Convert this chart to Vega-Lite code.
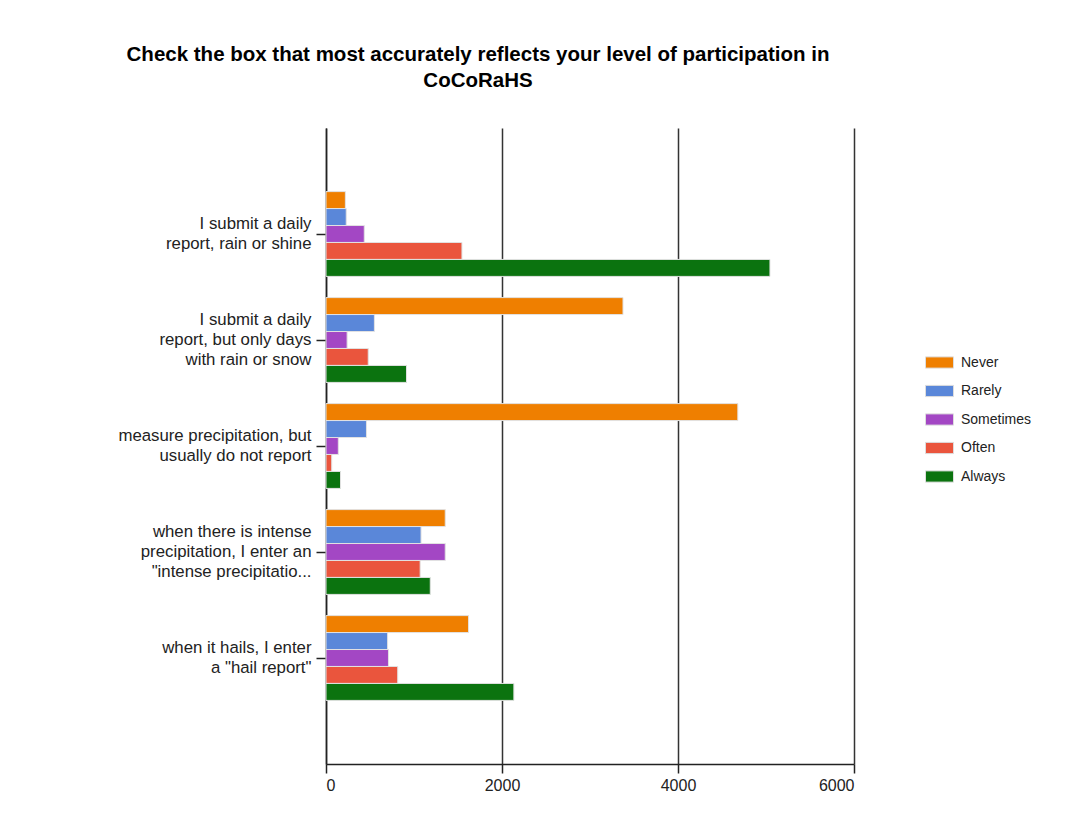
{
  "$schema": "https://vega.github.io/schema/vega-lite/v6.json",
  "width": 528,
  "height": 636,
  "autosize": {"type": "none"},
  "padding": {"left": 326, "top": 128, "right": 218, "bottom": 64},
  "background": "white",
  "title": {
    "text": ["Check the box that most accurately reflects your level of participation in", "CoCoRaHS"],
    "font": "Liberation Sans",
    "fontSize": 20.5,
    "fontWeight": "bold",
    "color": "#000000",
    "anchor": "middle",
    "frame": "group",
    "dx": -112,
    "offset": 37,
    "lineHeight": 26
  },
  "data": {
    "values": [
      {"question": "I submit a daily|report, rain or shine", "response": "Never", "count": 220},
      {"question": "I submit a daily|report, rain or shine", "response": "Rarely", "count": 230},
      {"question": "I submit a daily|report, rain or shine", "response": "Sometimes", "count": 435},
      {"question": "I submit a daily|report, rain or shine", "response": "Often", "count": 1545},
      {"question": "I submit a daily|report, rain or shine", "response": "Always", "count": 5045},
      {"question": "I submit a daily|report, but only days|with rain or snow", "response": "Never", "count": 3375},
      {"question": "I submit a daily|report, but only days|with rain or snow", "response": "Rarely", "count": 550},
      {"question": "I submit a daily|report, but only days|with rain or snow", "response": "Sometimes", "count": 240},
      {"question": "I submit a daily|report, but only days|with rain or snow", "response": "Often", "count": 480},
      {"question": "I submit a daily|report, but only days|with rain or snow", "response": "Always", "count": 915},
      {"question": "measure precipitation, but|usually do not report", "response": "Never", "count": 4680},
      {"question": "measure precipitation, but|usually do not report", "response": "Rarely", "count": 460},
      {"question": "measure precipitation, but|usually do not report", "response": "Sometimes", "count": 140},
      {"question": "measure precipitation, but|usually do not report", "response": "Often", "count": 65},
      {"question": "measure precipitation, but|usually do not report", "response": "Always", "count": 165},
      {"question": "when there is intense|precipitation, I enter an|\"intense precipitatio...", "response": "Never", "count": 1355},
      {"question": "when there is intense|precipitation, I enter an|\"intense precipitatio...", "response": "Rarely", "count": 1080},
      {"question": "when there is intense|precipitation, I enter an|\"intense precipitatio...", "response": "Sometimes", "count": 1355},
      {"question": "when there is intense|precipitation, I enter an|\"intense precipitatio...", "response": "Often", "count": 1070},
      {"question": "when there is intense|precipitation, I enter an|\"intense precipitatio...", "response": "Always", "count": 1185},
      {"question": "when it hails, I enter|a \"hail report\"", "response": "Never", "count": 1620},
      {"question": "when it hails, I enter|a \"hail report\"", "response": "Rarely", "count": 700},
      {"question": "when it hails, I enter|a \"hail report\"", "response": "Sometimes", "count": 710},
      {"question": "when it hails, I enter|a \"hail report\"", "response": "Often", "count": 815},
      {"question": "when it hails, I enter|a \"hail report\"", "response": "Always", "count": 2135}
    ]
  },
  "mark": {"type": "bar", "stroke": "#e2e2e2", "strokeWidth": 1},
  "encoding": {
    "y": {
      "field": "question",
      "type": "nominal",
      "sort": null,
      "scale": {"paddingInner": 0.2, "paddingOuter": 0.6},
      "axis": {
        "title": null,
        "labelExpr": "split(datum.label, '|')",
        "labelFont": "Liberation Sans",
        "labelFontSize": 16.8,
        "labelColor": "#222222",
        "labelLineHeight": 20,
        "labelPadding": 5,
        "labelLimit": 300,
        "labelOffset": {
          "condition": {"test": "length(split(datum.value, '|')) == 3", "value": -20},
          "value": -10
        },
        "tickSize": 10,
        "tickColor": "#222222",
        "tickWidth": 1.5,
        "domainColor": "#222222",
        "domainWidth": 1.5,
        "grid": false
      }
    },
    "yOffset": {
      "field": "response",
      "type": "nominal",
      "sort": ["Never", "Rarely", "Sometimes", "Often", "Always"],
      "scale": {"paddingInner": 0, "paddingOuter": 0}
    },
    "x": {
      "field": "count",
      "type": "quantitative",
      "scale": {"domain": [0, 6000], "nice": false},
      "axis": {
        "title": null,
        "values": [0, 2000, 4000, 6000],
        "format": "d",
        "labelFont": "Liberation Sans",
        "labelFontSize": 16,
        "labelColor": "#222222",
        "labelPadding": 4,
        "tickSize": 9,
        "tickColor": "#222222",
        "tickWidth": 1.5,
        "domainColor": "#222222",
        "domainWidth": 1.5,
        "grid": true,
        "gridColor": "#333333",
        "gridWidth": 1.5,
        "gridOpacity": 1
      }
    },
    "color": {
      "field": "response",
      "type": "nominal",
      "sort": ["Never", "Rarely", "Sometimes", "Often", "Always"],
      "scale": {
        "domain": ["Never", "Rarely", "Sometimes", "Often", "Always"],
        "range": ["#ef7f00", "#5a87d9", "#a347c4", "#ea553d", "#0b730f"]
      },
      "legend": {
        "title": null,
        "orient": "none",
        "legendX": 599,
        "legendY": 220,
        "symbolType": "M-1,-0.4H1V0.4H-1Z",
        "symbolSize": 784,
        "symbolStrokeColor": "#dddddd",
        "symbolStrokeWidth": 1,
        "symbolOpacity": 1,
        "labelFont": "Liberation Sans",
        "labelFontSize": 14,
        "labelColor": "#222222",
        "labelOffset": 7,
        "rowPadding": 5.5
      }
    }
  },
  "config": {
    "view": {"stroke": null}
  }
}
